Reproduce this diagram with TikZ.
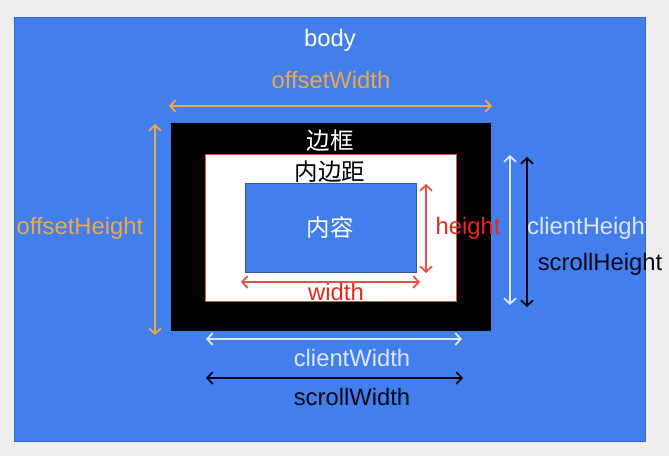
\documentclass[tikz,border=0pt]{standalone}
\usepackage{fontspec}
\setmainfont{Liberation Sans}
\newfontfamily\cjk{Noto Sans CJK SC}
\usetikzlibrary{arrows.meta}
\definecolor{bggray}{RGB}{239,238,239}
\definecolor{bodyblue}{RGB}{66,126,236}
\definecolor{edgeblue}{RGB}{50,90,170}
\definecolor{offorange}{RGB}{240,168,70}
\definecolor{redtxt}{RGB}{232,40,30}
\definecolor{redarrow}{RGB}{232,80,70}
\definecolor{clientc}{RGB}{222,230,244}
\definecolor{scrollc}{RGB}{8,8,24}
\tikzset{
  lbl/.style={inner sep=0pt, font=\fontsize{23.8}{26}\selectfont},
  cjklbl/.style={inner sep=0pt, font=\cjk\fontsize{23.5}{25}\selectfont},
  dim/.style={line width=1.8pt, {Straight Barb[length=5.5pt,width=12pt]}-{Straight Barb[length=5.5pt,width=12pt]}}
}
\begin{document}
\begin{tikzpicture}[x=1pt,y=-1pt]
\useasboundingbox (0,0) rectangle (669,456);
\fill[bggray] (0,0) rectangle (669,456);
% body
\fill[bodyblue] (14,17) rectangle (645,441);
\draw[edgeblue!60!bodyblue, line width=0.6pt] (14,17) rectangle (645,441);
% border box
\fill[black] (171,123) rectangle (491,331);
% padding box
\draw[fill=white, draw=redarrow, line width=1pt] (205,154) rectangle (456,301);
% content box
\draw[fill=bodyblue, draw=edgeblue, line width=0.8pt] (245,183) rectangle (416,272);

% labels
\node[lbl, text=white] (body) at (330,40) {body};
\node[lbl, text=offorange] (ow) at (331,80) {offsetWidth};
\node[lbl, text=offorange] (oh) at (80,228) {offsetHeight};
\node[cjklbl, text=white] (border) at (330,141) {边框};
\node[cjklbl, text=black] (padding) at (330,172) {内边距};
\node[cjklbl, text=white] (content) at (330,228) {内容};
\node[lbl, text=redtxt] (hl) at (468,228) {height};
\node[lbl, text=redtxt] (wl) at (336,292) {width};
\begin{scope}
  \clip (14,17) rectangle (645,441);
  \node[lbl, text=clientc, anchor=west] (chl) at (527,228) {clientHeight};
\end{scope}
\node[lbl, text=scrollc] (shl) at (600,264) {scrollHeight};
\node[lbl, text=clientc] (cwl) at (352,358) {clientWidth};
\node[lbl, text=scrollc] (swl) at (352,397) {scrollWidth};

% arrow end points
\coordinate (owA) at (169,106); \coordinate (owB) at (492,106);
\coordinate (ohA) at (155,124); \coordinate (ohB) at (155,335);
\coordinate (hA) at (426,184);  \coordinate (hB) at (426,273);
\coordinate (wA) at (241,282);  \coordinate (wB) at (420,282);
\coordinate (chA) at (510,155); \coordinate (chB) at (510,305);
\coordinate (shA) at (527,157); \coordinate (shB) at (527,307);
\coordinate (cwA) at (206,339); \coordinate (cwB) at (462,339);
\coordinate (swA) at (206,378); \coordinate (swB) at (463,378);

\draw[dim, offorange] (owA) -- (owB);
\draw[dim, offorange] (ohA) -- (ohB);
\draw[dim, redarrow] (hA) -- (hB);
\draw[dim, redarrow] (wA) -- (wB);
\draw[dim, clientc] (chA) -- (chB);
\draw[dim, scrollc] (shA) -- (shB);
\draw[dim, clientc] (cwA) -- (cwB);
\draw[dim, scrollc] (swA) -- (swB);
\end{tikzpicture}
\end{document}
